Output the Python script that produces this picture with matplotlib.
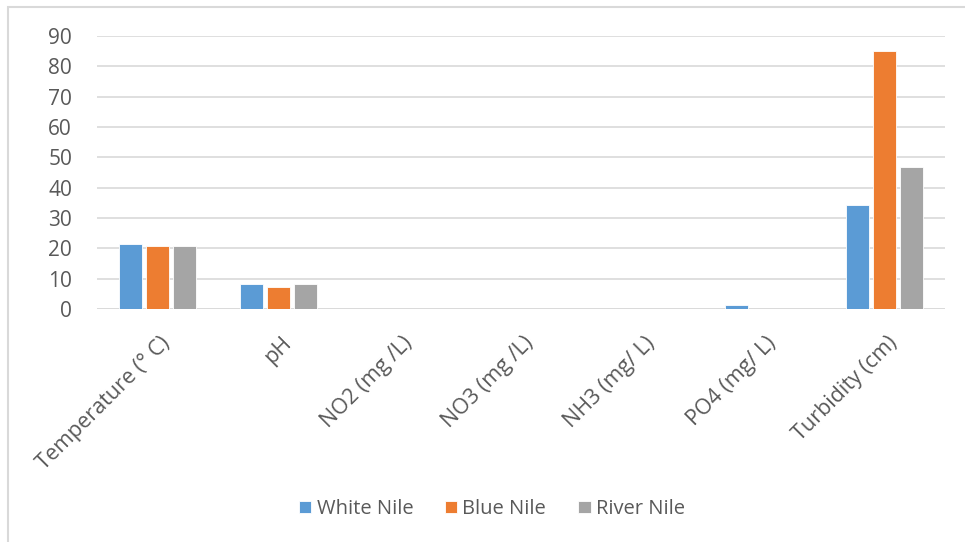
import matplotlib.pyplot as plt
import matplotlib.transforms as mtrans
import numpy as np
from matplotlib.patches import Rectangle

categories = ['Temperature (° C)', 'pH', 'NO2 (mg /L)', 'NO3 (mg /L)',
              'NH3 (mg/ L)', 'PO4 (mg/ L)', 'Turbidity (cm)']
white_nile = [21.5, 8.1, 0, 0, 0, 1.2, 34.3]
blue_nile = [20.8, 7.2, 0, 0, 0, 0, 85.2]
river_nile = [20.8, 8.1, 0, 0, 0, 0, 46.7]
series = ['White Nile', 'Blue Nile', 'River Nile']
colors = ['#5b9bd5', '#ed7d31', '#a5a5a5']
yticks = list(range(0, 100, 10))

plt.rcParams['font.family'] = ['Open Sans', 'DejaVu Sans']

fig = plt.figure(figsize=(9.65, 5.42), dpi=100)
ax = fig.add_axes([97 / 965, 1 - 309 / 542, 848 / 965, 273 / 542])

x = np.arange(len(categories))
w = 0.19
step = 0.222
for i, (vals, name, c) in enumerate(zip([white_nile, blue_nile, river_nile], series, colors)):
    ax.bar(x + (i - 1) * step, vals, width=w, color=c, edgecolor='white', linewidth=0.6,
           label=name, zorder=3)

ax.set_xlim(-0.5, len(categories) - 0.5)
ax.set_ylim(0, 90)
ax.set_yticks(yticks)
ax.yaxis.grid(True, color='#d9d9d9', linewidth=1.2, zorder=0)
ax.tick_params(axis='y', length=0, labelsize=15, labelcolor='#595959', pad=18)
ax.tick_params(axis='x', length=0, labelsize=15.5, labelcolor='#595959', pad=17)
ax.set_xticks(x)
ax.set_xticklabels(categories, rotation=45, ha='right', va='top', rotation_mode='anchor')
for s in ax.spines.values():
    s.set_visible(False)
ax.axhline(0, color='#d9d9d9', linewidth=1.2, zorder=2)

offset = mtrans.ScaledTranslation(2 / 100, 0, fig.dpi_scale_trans)
for lbl in ax.get_xticklabels():
    lbl.set_transform(lbl.get_transform() + offset)

fig.legend(loc='center', bbox_to_anchor=(492 / 965, 1 - 509 / 542), ncol=3, frameon=False,
           fontsize=14.5, labelcolor='#595959', handlelength=0.6, handleheight=0.6,
           handletextpad=0.25, columnspacing=1.6)

fig.patches.append(Rectangle((8 / 965, -0.1), 1.2, 1 - 7 / 542 + 0.1, transform=fig.transFigure,
                             fill=False, edgecolor='#d9d9d9', linewidth=1.5, figure=fig))

fig.savefig('out.png', dpi=100)
